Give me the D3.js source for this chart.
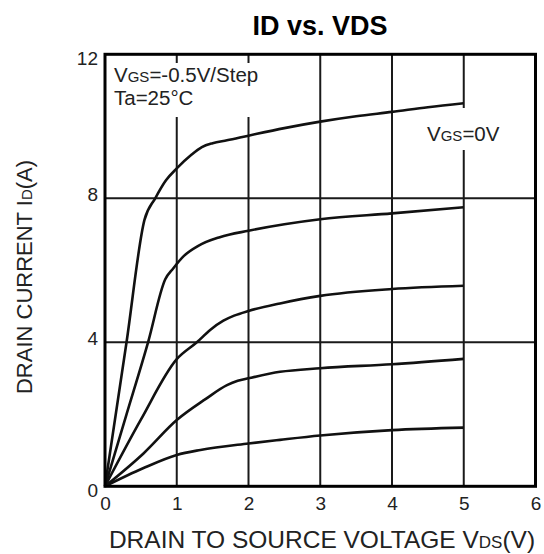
<!DOCTYPE html>
<html><head><meta charset="utf-8">
<script src="https://cdn.jsdelivr.net/npm/d3@7/dist/d3.min.js"></script>
<style>
body{margin:0;background:#fff;}
text{font-family:"Liberation Sans",Arial,sans-serif;}
</style></head>
<body><svg id="c" width="544" height="554"></svg>
<script>
// ---- data ----
const xTicks = [0,1,2,3,4,5,6];
const yTicks = [0,4,8,12];
const xGrid = [1,2,3,4,5];
const yGrid = [4,8];
const vgsLabels = ["0V","-0.5V","-1V","-1.5V","-2V"];
const curveVgs0   = [[0,0],[0.3,4.0],[0.55,7.4],[0.7,8.0],[0.85,8.5],[1,8.83],[1.2,9.2],[1.35,9.42],[1.5,9.53],[1.7,9.61],[2,9.74],[2.5,9.95],[3,10.13],[3.5,10.28],[4,10.4],[4.5,10.53],[5,10.64]];
const curveVgsM05 = [[0,0],[0.3,2.0],[0.6,4.0],[0.84,5.75],[0.95,6.05],[1.1,6.4],[1.3,6.68],[1.6,6.92],[2,7.1],[2.5,7.28],[3,7.42],[4,7.58],[5,7.75]];
const curveVgsM1  = [[0,0],[0.5,1.85],[1,3.53],[1.28,4.0],[1.47,4.35],[1.65,4.6],[1.8,4.74],[2,4.87],[2.44,5.08],[3,5.29],[4,5.48],[5,5.57]];
const curveVgsM15 = [[0,0],[0.54,0.92],[1,1.84],[1.4,2.42],[1.7,2.81],[1.85,2.93],[2,3.0],[2.44,3.18],[3,3.28],[4,3.39],[5,3.54]];
const curveVgsM2  = [[0,0],[0.53,0.5],[1,0.87],[1.33,1.01],[2,1.19],[2.44,1.29],[3,1.41],[4,1.56],[5,1.63]];
const curves = [curveVgs0, curveVgsM05, curveVgsM1, curveVgsM15, curveVgsM2];

// ---- layout ----
const svg = d3.select("#c");
const L = 105, T = 54.3, W = 430.5, H = 432;
const x = d3.scaleLinear().domain([0,6]).range([L, L+W]);
const y = d3.scaleLinear().domain([0,12]).range([T+H, T]);
const ink = "#1a1a1a";

// title
svg.append("text").attr("x",320).attr("y",35).attr("text-anchor","middle")
  .attr("font-size",27).attr("font-weight","bold").attr("fill","#000").text("ID vs. VDS");

// grid
const g = svg.append("g");
g.selectAll("line.vx").data(xGrid).join("line")
  .attr("x1",d=>x(d)).attr("x2",d=>x(d)).attr("y1",T).attr("y2",T+H)
  .attr("stroke",ink).attr("stroke-width",2);
g.selectAll("line.hy").data(yGrid).join("line")
  .attr("y1",d=>y(d)).attr("y2",d=>y(d)).attr("x1",L).attr("x2",L+W)
  .attr("stroke",ink).attr("stroke-width",2);

// label backgrounds (interrupt grid)
svg.append("rect").attr("x",L+3).attr("y",63).attr("width",160).attr("height",54).attr("fill","#fff");
svg.append("rect").attr("x",445).attr("y",108).attr("width",45).attr("height",42).attr("fill","#fff");

// curves
const line = d3.line().x(d=>x(d[0])).y(d=>y(d[1])).curve(d3.curveMonotoneX);
svg.append("g").selectAll("path").data(curves).join("path")
  .attr("d",line).attr("fill","none").attr("stroke","#111").attr("stroke-width",2.6)
  .attr("stroke-linejoin","round");

const ann = svg.append("text").attr("x",114).attr("y",82).attr("font-size",20.5).attr("fill","#222");
ann.append("tspan").text("V");
ann.append("tspan").attr("font-size",15).text("GS");
ann.append("tspan").text("=-0.5V/Step");
svg.append("text").attr("x",114).attr("y",105).attr("font-size",20.5).attr("fill","#222").text("Ta=25°C");

const lab = svg.append("text").attr("x",427).attr("y",141).attr("font-size",20.5).attr("fill","#222");
lab.append("tspan").text("V");
lab.append("tspan").attr("font-size",15).text("GS");
lab.append("tspan").text("=" + vgsLabels[0]);

// frame
svg.append("rect").attr("x",L).attr("y",T).attr("width",W).attr("height",H)
  .attr("fill","none").attr("stroke","#000").attr("stroke-width",3);

// axes labels
const xa = svg.append("g").attr("transform",`translate(0,${T+H})`)
  .call(d3.axisBottom(x).tickValues(xTicks).tickSize(0).tickPadding(10).tickFormat(d3.format("d")));
xa.select(".domain").remove();
xa.selectAll("text").attr("font-size",19).attr("fill","#222").attr("font-family","Liberation Sans, Arial, sans-serif");

const ya = svg.append("g").attr("transform",`translate(${L},0)`)
  .call(d3.axisLeft(y).tickValues(yTicks).tickSize(0).tickPadding(7).tickFormat(d3.format("d")));
ya.select(".domain").remove();
ya.selectAll("text").attr("font-size",19).attr("fill","#222").attr("font-family","Liberation Sans, Arial, sans-serif")
  .attr("dy", d => (d===0||d===12) ? "0.55em" : "0.12em");

// axis titles
const xt = svg.append("text").attr("x",322).attr("y",548).attr("text-anchor","middle").attr("font-size",24.5).attr("fill","#222");
xt.append("tspan").text("DRAIN TO SOURCE VOLTAGE V");
xt.append("tspan").attr("font-size",17).text("DS");
xt.append("tspan").text("(V)");

const yt = svg.append("text").attr("transform","translate(32,277) rotate(-90)").attr("text-anchor","middle").attr("font-size",22).attr("fill","#222");
yt.append("tspan").text("DRAIN CURRENT I");
yt.append("tspan").attr("font-size",15).text("D");
yt.append("tspan").text("(A)");
</script></body></html>
